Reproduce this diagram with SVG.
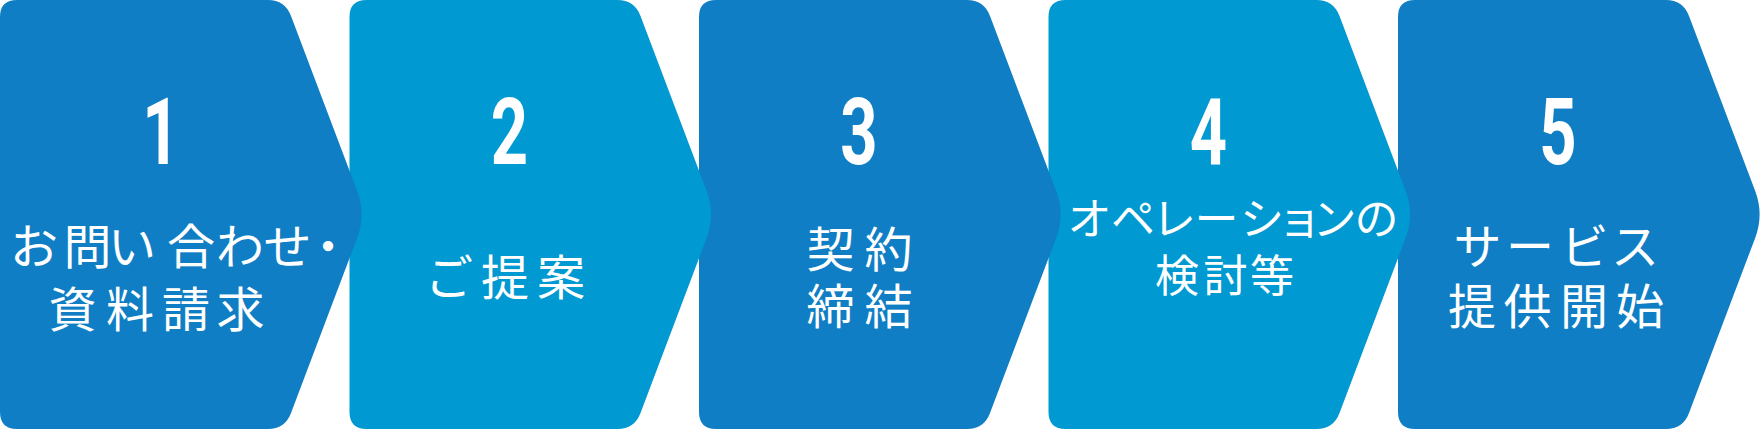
<svg xmlns="http://www.w3.org/2000/svg" xmlns:xlink="http://www.w3.org/1999/xlink" width="1760" height="429" viewBox="0 0 1760 429">
<style>
.dark{fill:#0f7ec4}
.light{fill:#0099d1}
.num{font-family:Roboto,"Liberation Sans",sans-serif;font-weight:700;font-size:93px;fill:#fff;text-anchor:middle}
.lbl{font-family:"Noto Sans CJK JP","Noto Sans",sans-serif;font-size:48px;fill:#fff;text-anchor:middle}
.sm{font-size:44px}
</style>
<defs>
<path id="chev" d="M0,17 Q0,0 17,0 L268,0 Q285,0 291,16 L357.2,191.1 Q366,214.5 357.2,237.9 L291,413 Q285,429 268,429 L17,429 Q0,429 0,412 Z"/>
</defs>
<rect width="1760" height="429" fill="#fff"/>
<g id="step5" transform="translate(1398,0)">
<use xlink:href="#chev" class="dark"/>
<text class="num" transform="translate(160,164) scale(0.7,1)">5</text>
<text class="lbl" x="79.5 132 186.5 237" y="264">サービス</text>
<text class="lbl" x="74 129.5 186 242" y="324">提供開始</text>
</g>
<g id="step4" transform="translate(1048.5,0)">
<use xlink:href="#chev" class="light"/>
<text class="num" transform="translate(160,164) scale(0.7,1)">4</text>
<text class="lbl sm" x="41 84.5 125.5 168 213.5 251 286 328" y="235">オペレーションの</text>
<text class="lbl sm" x="128.5 177 223.5" y="292">検討等</text>
</g>
<g id="step3" transform="translate(699,0)">
<use xlink:href="#chev" class="dark"/>
<text class="num" transform="translate(160,164) scale(0.7,1)">3</text>
<text class="lbl" x="131.5 189.5" y="267">契約</text>
<text class="lbl" x="131.5 189.5" y="324">締結</text>
</g>
<g id="step2" transform="translate(349.5,0)">
<use xlink:href="#chev" class="light"/>
<text class="num" transform="translate(160,164) scale(0.7,1)">2</text>
<text class="lbl" x="99.5 155.5 211.5" y="295">ご提案</text>
</g>
<g id="step1">
<use xlink:href="#chev" class="dark"/>
<text class="num" transform="translate(161,164) scale(0.7,1)">1</text>
<text class="lbl" x="34 87.5 132 191 240 287.5 328" y="264">お問い合わせ・</text>
<text class="lbl" x="72.5 130 186 240.5" y="327">資料請求</text>
</g>
</svg>
